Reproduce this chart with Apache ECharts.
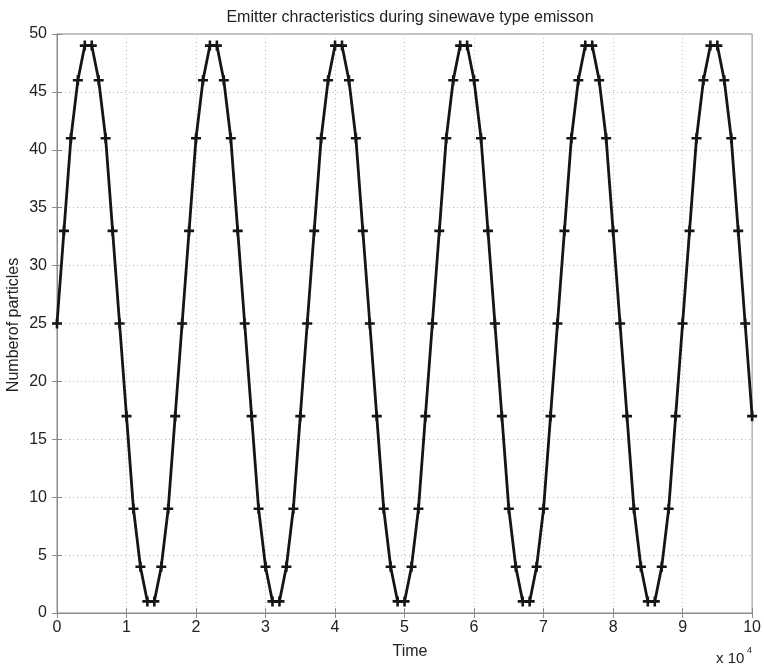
<!DOCTYPE html>
<html>
<head>
<meta charset="utf-8">
<script src="https://cdn.jsdelivr.net/npm/echarts@6/dist/echarts.min.js"></script>
<style>
html,body{margin:0;padding:0;background:#fff;}
#chart{width:764px;height:667px;}
</style>
</head>
<body>
<div id="chart"></div>
<script>
// Time in units of 10^4
var times = [0,0.1,0.2,0.3,0.4,0.5,0.6,0.7,0.8,0.9,
  1,1.1,1.2,1.3,1.4,1.5,1.6,1.7,1.8,1.9,
  2,2.1,2.2,2.3,2.4,2.5,2.6,2.7,2.8,2.9,
  3,3.1,3.2,3.3,3.4,3.5,3.6,3.7,3.8,3.9,
  4,4.1,4.2,4.3,4.4,4.5,4.6,4.7,4.8,4.9,
  5,5.1,5.2,5.3,5.4,5.5,5.6,5.7,5.8,5.9,
  6,6.1,6.2,6.3,6.4,6.5,6.6,6.7,6.8,6.9,
  7,7.1,7.2,7.3,7.4,7.5,7.6,7.7,7.8,7.9,
  8,8.1,8.2,8.3,8.4,8.5,8.6,8.7,8.8,8.9,
  9,9.1,9.2,9.3,9.4,9.5,9.6,9.7,9.8,9.9,
  10];
var particles = [25,33,41,46,49,49,46,41,33,25,17,9,4,1,1,4,9,17,
  25,33,41,46,49,49,46,41,33,25,17,9,4,1,1,4,9,17,
  25,33,41,46,49,49,46,41,33,25,17,9,4,1,1,4,9,17,
  25,33,41,46,49,49,46,41,33,25,17,9,4,1,1,4,9,17,
  25,33,41,46,49,49,46,41,33,25,17,9,4,1,1,4,9,17,
  25,33,41,46,49,49,46,41,33,25,17];
var titleText = 'Emitter chracteristics during sinewave type emisson';
var xLabel = 'Time';
var yLabel = 'Numberof particles';

var data = times.map(function(t,i){return [t, particles[i]];});
var font = 'Liberation Sans, Arial, sans-serif';
var plus = 'path://M3.7,0 H6.3 V3.7 H10 V6.3 H6.3 V10 H3.7 V6.3 H0 V3.7 H3.7 Z';

var chart = echarts.init(document.getElementById('chart'));
var gridLine = {show:true, lineStyle:{color:'#bdbdbd', type:[1,3], width:1}};
var axisCol = '#8a8a8a';
chart.setOption({
  animation:false,
  title:{text:titleText, left:405, top:5, textAlign:'center',
    textStyle:{fontFamily:font, fontSize:16, fontWeight:'normal', color:'#222'}},
  grid:{left:57, right:10, top:34, bottom:54, show:true, borderColor:axisCol, borderWidth:1},
  xAxis:[{type:'value', min:0, max:10, interval:1, position:'bottom',
    axisLine:{show:true, lineStyle:{color:axisCol}},
    axisTick:{show:true, inside:true, length:5, lineStyle:{color:axisCol}},
    axisLabel:{fontFamily:font, fontSize:16, color:'#222', margin:7},
    splitLine:gridLine},
   {type:'value', min:0, max:10, interval:1, position:'top',
    axisLine:{show:true, lineStyle:{color:axisCol}},
    axisTick:{show:true, inside:true, length:5, lineStyle:{color:axisCol}},
    axisLabel:{show:false}, splitLine:{show:false}}],
  yAxis:[{type:'value', min:0, max:50, interval:5, position:'left',
    axisLine:{show:true, lineStyle:{color:axisCol}},
    axisTick:{show:true, inside:true, length:5, lineStyle:{color:axisCol}},
    axisLabel:{fontFamily:font, fontSize:16, color:'#222', margin:10},
    splitLine:gridLine},
   {type:'value', min:0, max:50, interval:5, position:'right',
    axisLine:{show:true, lineStyle:{color:axisCol}},
    axisTick:{show:true, inside:true, length:5, lineStyle:{color:axisCol}},
    axisLabel:{show:false}, splitLine:{show:false}}],
  graphic:[
    {type:'text', style:{text:xLabel, x:410, y:652, align:'center', verticalAlign:'middle', font:'16px Liberation Sans, Arial, sans-serif', fill:'#222'}},
    {type:'text', style:{text:'x 10', x:716, y:659, align:'left', verticalAlign:'middle', font:'15px Liberation Sans, Arial, sans-serif', fill:'#222'}},
    {type:'text', style:{text:'4', x:747, y:651, align:'left', verticalAlign:'middle', font:'9px Liberation Sans, Arial, sans-serif', fill:'#222'}},
    {type:'text', rotation:Math.PI/2, x:14, y:325, style:{text:yLabel, x:0, y:0, align:'center', verticalAlign:'middle', font:'16px Liberation Sans, Arial, sans-serif', fill:'#222'}}
  ],
  series:[{type:'line', data:data, xAxisIndex:0, yAxisIndex:0,
    lineStyle:{color:'#151515', width:2.8},
    itemStyle:{color:'#151515'},
    symbol:plus, symbolSize:10, showSymbol:true}]
});
</script>
</body>
</html>
